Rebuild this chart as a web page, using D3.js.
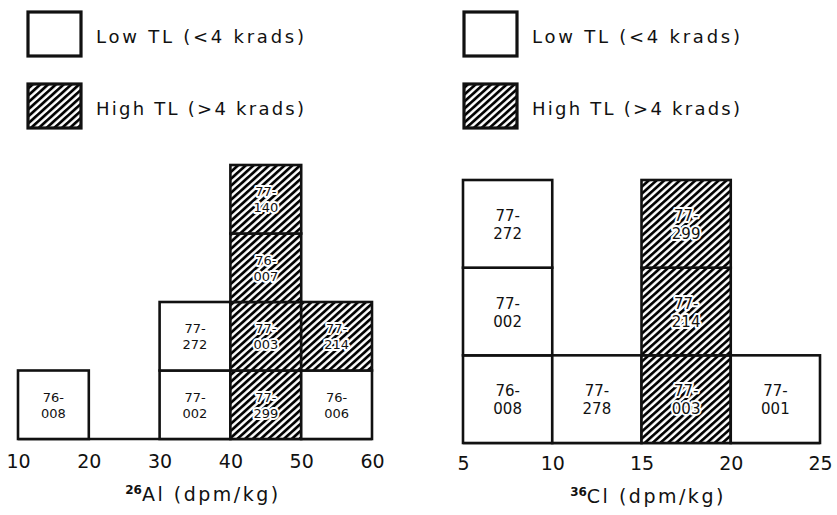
<!DOCTYPE html>
<html>
<head>
<meta charset="utf-8">
<script src="https://cdn.jsdelivr.net/npm/d3@7"></script>
<style>
html,body{margin:0;padding:0;background:#fff;}
svg{display:block;}
text{font-family:"DejaVu Sans",sans-serif;fill:#111;}
</style>
</head>
<body>
<svg id="chart" width="837" height="515"></svg>
<script>
// ---- Data ----
// 26Al histogram
const alTicks = [10, 20, 30, 40, 50, 60];
const alSamples = ["76-008", "77-002", "77-272", "77-299", "77-003", "76-007", "77-140", "76-006", "77-214"];
const alBinStart = [10, 30, 30, 40, 40, 40, 40, 50, 50];
const alTL = ["low", "low", "low", "high", "high", "high", "high", "low", "high"];
// 36Cl histogram
const clTicks = [5, 10, 15, 20, 25];
const clSamples = ["76-008", "77-002", "77-272", "77-278", "77-003", "77-214", "77-299", "77-001"];
const clBinStart = [5, 5, 5, 10, 15, 15, 15, 20];
const clTL = ["low", "low", "low", "low", "high", "high", "high", "low"];
const legendLabels = ["Low TL (<4 krads)", "High TL (>4 krads)"];

const svg = d3.select("#chart");

// hatch pattern
const defs = svg.append("defs");
const P = 5.2;
const pat = defs.append("pattern")
  .attr("id", "hatch")
  .attr("patternUnits", "userSpaceOnUse")
  .attr("width", P).attr("height", P)
  .attr("patternTransform", "rotate(48)");
pat.append("rect").attr("width", P).attr("height", P).attr("fill", "#fff");
pat.append("line").attr("x1", 1.4).attr("y1", 0).attr("x2", 1.4).attr("y2", P)
  .attr("stroke", "#000").attr("stroke-width", 2.7);

function drawPanel(cfg) {
  const g = svg.append("g");
  const x = d3.scaleLinear().domain(cfg.xDomain).range(cfg.xRange);
  const y = d3.scaleLinear().domain([0, cfg.maxCount]).range(cfg.yRange);

  // compute stacking level within each bin
  const counts = {};
  const boxes = cfg.samples.map((s, i) => {
    const b = cfg.bins[i];
    const lvl = counts[b] || 0;
    counts[b] = lvl + 1;
    return {name: s, x0: b, x1: b + cfg.binWidth, lvl, tl: cfg.tl[i]};
  });

  // baseline
  g.append("line")
    .attr("x1", x(cfg.xDomain[0])).attr("x2", x(cfg.xDomain[1]))
    .attr("y1", y(0)).attr("y2", y(0))
    .attr("stroke", "#111").attr("stroke-width", 2.6);

  const bg = g.selectAll("g.box").data(boxes).enter().append("g").attr("class", "box");
  bg.append("rect")
    .attr("x", d => x(d.x0))
    .attr("y", d => y(d.lvl + 1))
    .attr("width", d => x(d.x1) - x(d.x0))
    .attr("height", d => y(d.lvl) - y(d.lvl + 1))
    .attr("fill", d => d.tl === "high" ? "url(#hatch)" : "#fff")
    .attr("stroke", "#111")
    .attr("stroke-width", 2.6);

  const parts = d => d.name.split("-");
  const cx = d => (x(d.x0) + x(d.x1)) / 2;
  const cy = d => (y(d.lvl) + y(d.lvl + 1)) / 2;
  // two separate text lines per box
  [0, 1].forEach(k => {
    bg.append("text")
      .attr("x", cx)
      .attr("y", d => cy(d) + cfg.labelOffset + (k === 0 ? -cfg.lineGap / 2 : cfg.lineGap / 2))
      .attr("text-anchor", "middle")
      .style("font-size", cfg.labelSize + "px")
      .attr("stroke", d => d.tl === "high" ? "#fff" : "none")
      .attr("stroke-width", 4)
      .attr("paint-order", "stroke")
      .attr("stroke-linejoin", "round")
      .text(d => k === 0 ? parts(d)[0] + "-" : parts(d)[1]);
  });

  // axis (tick labels only)
  const axis = d3.axisBottom(x).tickValues(cfg.ticks).tickSize(0).tickPadding(0).tickFormat(d3.format("d"));
  const ag = g.append("g").attr("transform", `translate(0,${cfg.tickY})`).call(axis);
  ag.select(".domain").remove();
  ag.selectAll("text").style("font-size", "19px").attr("dy", "0").attr("fill", "#111")
    .style("font-family", '"DejaVu Sans",sans-serif');

  // axis title
  const tt = g.append("text")
    .attr("x", cfg.titleX).attr("y", cfg.titleY)
    .attr("text-anchor", "middle")
    .style("font-size", "19px")
    .style("letter-spacing", "2.5px");
  tt.append("tspan").text(cfg.sup).style("font-size", "12px").style("font-weight", "bold").style("letter-spacing", "0px").attr("dy", "-7");
  tt.append("tspan").text(cfg.elem).attr("dy", "7");
  tt.append("tspan").text(" (dpm/kg)");

  // legend
  const lg = g.append("g");
  legendLabels.forEach((lab, i) => {
    const ly = cfg.legendY[i];
    lg.append("rect")
      .attr("x", cfg.legendX).attr("y", ly)
      .attr("width", 53).attr("height", 44)
      .attr("fill", i === 0 ? "#fff" : "url(#hatch)")
      .attr("stroke", "#111").attr("stroke-width", 3.2);
    lg.append("text")
      .attr("x", cfg.legendX + 68).attr("y", ly + 31)
      .style("font-size", "18px")
      .attr("textLength", 208)
      .attr("lengthAdjust", "spacing")
      .text(lab);
  });
}

drawPanel({
  xDomain: [10, 60], xRange: [18, 372],
  maxCount: 4, yRange: [439, 165],
  binWidth: 10,
  samples: alSamples, bins: alBinStart, tl: alTL,
  ticks: alTicks, tickY: 468,
  labelSize: 13, lineGap: 16, labelOffset: 5,
  titleX: 203, titleY: 501, sup: "26", elem: "Al",
  legendX: 28, legendY: [12, 84]
});

drawPanel({
  xDomain: [5, 25], xRange: [463, 820],
  maxCount: 3, yRange: [443, 180],
  binWidth: 5,
  samples: clSamples, bins: clBinStart, tl: clTL,
  ticks: clTicks, tickY: 470,
  labelSize: 15, lineGap: 18, labelOffset: 6,
  titleX: 648, titleY: 503, sup: "36", elem: "Cl",
  legendX: 464, legendY: [12, 84]
});
</script>
</body>
</html>
